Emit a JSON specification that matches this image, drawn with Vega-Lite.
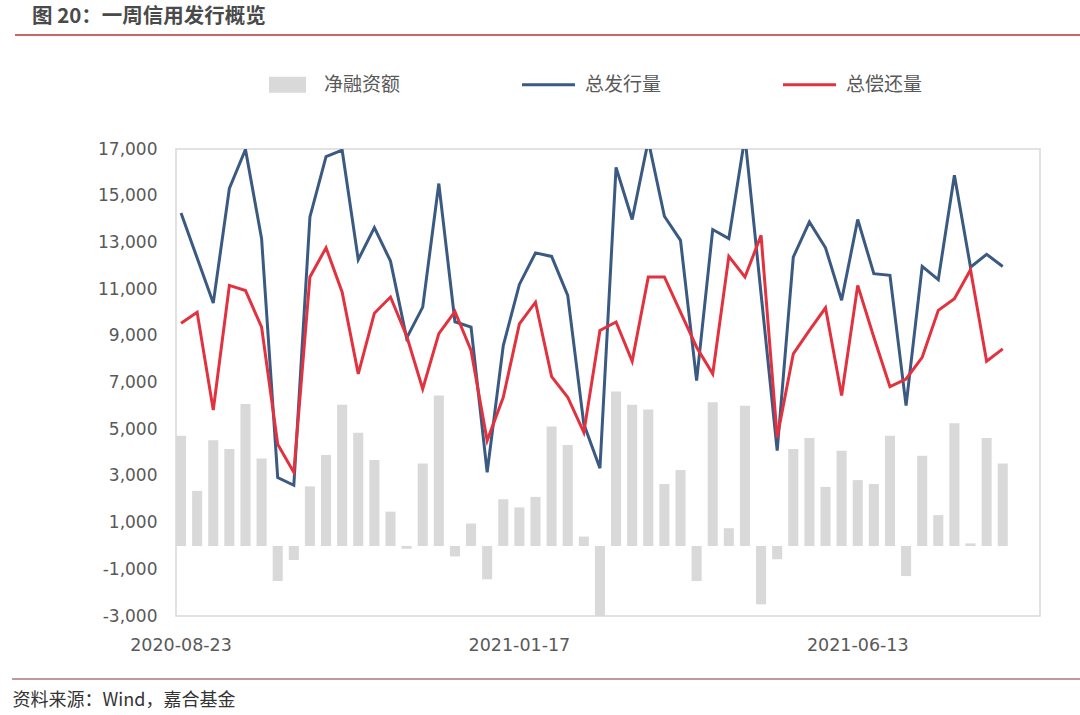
{
  "$schema": "https://vega.github.io/schema/vega-lite/v6.json",
  "width": 864,
  "height": 467,
  "autosize": {"type": "none"},
  "padding": {"left": 176, "top": 149, "right": 40, "bottom": 99},
  "background": "#ffffff",
  "config": {
    "font": "Noto Sans CJK SC",
    "view": {"stroke": "#d9d9d9", "strokeWidth": 1.5}
  },
  "title": {
    "text": "图 20：一周信用发行概览",
    "anchor": "start",
    "frame": "group",
    "dx": -144,
    "offset": 7,
    "fontSize": 20.5,
    "fontWeight": "bold",
    "color": "#4a4a4a"
  },
  "data": {
    "values": [
      {"date": "2020-08-23", "净融资额": 4720, "总发行量": 14260, "总偿还量": 9540},
      {"date": "2020-08-30", "净融资额": 2360, "总发行量": 12330, "总偿还量": 10010},
      {"date": "2020-09-06", "净融资额": 4530, "总发行量": 10400, "总偿还量": 5820},
      {"date": "2020-09-13", "净融资额": 4150, "总发行量": 15310, "总偿还量": 11160},
      {"date": "2020-09-20", "净融资额": 6080, "总发行量": 16980, "总偿还量": 10940},
      {"date": "2020-09-27", "净融资额": 3750, "总发行量": 13160, "总偿还量": 9370},
      {"date": "2020-10-04", "净融资额": -1500, "总发行量": 2930, "总偿还量": 4360},
      {"date": "2020-10-11", "净融资额": -600, "总发行量": 2600, "总偿还量": 3150},
      {"date": "2020-10-18", "净融资额": 2550, "总发行量": 14090, "总偿还量": 11520},
      {"date": "2020-10-25", "净融资额": 3890, "总发行量": 16670, "总偿还量": 12770},
      {"date": "2020-11-01", "净融资额": 6050, "总发行量": 16950, "总偿还量": 10870},
      {"date": "2020-11-08", "净融资额": 4850, "总发行量": 12260, "总偿还量": 7370},
      {"date": "2020-11-15", "净融资额": 3680, "总发行量": 13630, "总偿还量": 9970},
      {"date": "2020-11-22", "净融资额": 1470, "总发行量": 12200, "总偿还量": 10660},
      {"date": "2020-11-29", "净融资额": -120, "总发行量": 8900, "总偿还量": 9000},
      {"date": "2020-12-06", "净融资额": 3530, "总发行量": 10230, "总偿还量": 6720},
      {"date": "2020-12-13", "净融资额": 6440, "总发行量": 15520, "总偿还量": 9090},
      {"date": "2020-12-20", "净融资额": -450, "总发行量": 9600, "总偿还量": 10040},
      {"date": "2020-12-27", "净融资额": 960, "总发行量": 9370, "总偿还量": 8370},
      {"date": "2021-01-03", "净融资额": -1430, "总发行量": 3150, "总偿还量": 4510},
      {"date": "2021-01-10", "净融资额": 2000, "总发行量": 8580, "总偿还量": 6370},
      {"date": "2021-01-17", "净融资额": 1650, "总发行量": 11200, "总偿还量": 9510},
      {"date": "2021-01-24", "净融资额": 2100, "总发行量": 12550, "总偿还量": 10440},
      {"date": "2021-01-31", "净融资额": 5120, "总发行量": 12400, "总偿还量": 7250},
      {"date": "2021-02-07", "净融资额": 4320, "总发行量": 10730, "总偿还量": 6370},
      {"date": "2021-02-14", "净融资额": 400, "总发行量": 5220, "总偿还量": 4860},
      {"date": "2021-02-21", "净融资额": -5900, "总发行量": 3330, "总偿还量": 9230},
      {"date": "2021-02-28", "净融资额": 6610, "总发行量": 16210, "总偿还量": 9590},
      {"date": "2021-03-07", "净融资额": 6050, "总发行量": 13980, "总偿还量": 7910},
      {"date": "2021-03-14", "净融资额": 5840, "总发行量": 17360, "总偿还量": 11520},
      {"date": "2021-03-21", "净融资额": 2650, "总发行量": 14120, "总偿还量": 11520},
      {"date": "2021-03-28", "净融资额": 3250, "总发行量": 13090, "总偿还量": 10010},
      {"date": "2021-04-04", "净融资额": -1500, "总发行量": 7080, "总偿还量": 8510},
      {"date": "2021-04-11", "净融资额": 6150, "总发行量": 13550, "总偿还量": 7370},
      {"date": "2021-04-18", "净融资额": 760, "总发行量": 13160, "总偿还量": 12400},
      {"date": "2021-04-25", "净融资额": 6000, "总发行量": 17520, "总偿还量": 11520},
      {"date": "2021-05-02", "净融资额": -2500, "总发行量": 10800, "总偿还量": 13300},
      {"date": "2021-05-09", "净融资额": -570, "总发行量": 4080, "总偿还量": 4650},
      {"date": "2021-05-16", "净融资额": 4150, "总发行量": 12370, "总偿还量": 8230},
      {"date": "2021-05-23", "净融资额": 4620, "总发行量": 13880, "总偿还量": 9230},
      {"date": "2021-05-30", "净融资额": 2530, "总发行量": 12770, "总偿还量": 10200},
      {"date": "2021-06-06", "净融资额": 4080, "总发行量": 10520, "总偿还量": 6440},
      {"date": "2021-06-13", "净融资额": 2820, "总发行量": 13980, "总偿还量": 11160},
      {"date": "2021-06-20", "净融资额": 2650, "总发行量": 11660, "总偿还量": 8940},
      {"date": "2021-06-27", "净融资额": 4720, "总发行量": 11590, "总偿还量": 6820},
      {"date": "2021-07-04", "净融资额": -1290, "总发行量": 6010, "总偿还量": 7150},
      {"date": "2021-07-11", "净融资额": 3860, "总发行量": 11970, "总偿还量": 8080},
      {"date": "2021-07-18", "净融资额": 1320, "总发行量": 11400, "总偿还量": 10090},
      {"date": "2021-07-25", "净融资额": 5250, "总发行量": 15880, "总偿还量": 10590},
      {"date": "2021-08-01", "净融资额": 110, "总发行量": 11940, "总偿还量": 11830},
      {"date": "2021-08-08", "净融资额": 4620, "总发行量": 12490, "总偿还量": 7910},
      {"date": "2021-08-15", "净融资额": 3530, "总发行量": 11970, "总偿还量": 8440}
    ]
  },
  "encoding": {
    "x": {
      "field": "date",
      "type": "ordinal",
      "sort": null,
      "scale": {
        "domain": ["2020-08-23","2020-08-30","2020-09-06","2020-09-13","2020-09-20","2020-09-27","2020-10-04","2020-10-11","2020-10-18","2020-10-25","2020-11-01","2020-11-08","2020-11-15","2020-11-22","2020-11-29","2020-12-06","2020-12-13","2020-12-20","2020-12-27","2021-01-03","2021-01-10","2021-01-17","2021-01-24","2021-01-31","2021-02-07","2021-02-14","2021-02-21","2021-02-28","2021-03-07","2021-03-14","2021-03-21","2021-03-28","2021-04-04","2021-04-11","2021-04-18","2021-04-25","2021-05-02","2021-05-09","2021-05-16","2021-05-23","2021-05-30","2021-06-06","2021-06-13","2021-06-20","2021-06-27","2021-07-04","2021-07-11","2021-07-18","2021-07-25","2021-08-01","2021-08-08","2021-08-15","2021-08-22","2021-08-29"],
        "paddingInner": 0.375,
        "paddingOuter": 0
      },
      "axis": {
        "labelExpr": "indexof(['2020-08-23', '2021-01-17', '2021-06-13'], datum.value) >= 0 ? datum.value : ''",
        "labelAngle": 0,
        "labelOverlap": false,
        "labelBound": false,
        "labelFlush": false,
        "ticks": false,
        "domain": false,
        "grid": false,
        "labelPadding": 20,
        "labelFont": "DejaVu Sans",
        "labelFontSize": 17.5,
        "labelColor": "#595959",
        "title": "资料来源：Wind，嘉合基金",
        "titleX": -164,
        "titleY": 84,
        "titleAlign": "left",
        "titleBaseline": "middle",
        "titleAnchor": null,
        "titleFontSize": 18,
        "titleFontWeight": "normal",
        "titleColor": "#333333"
      }
    }
  },
  "layer": [
    {
      "mark": {"type": "bar", "clip": true},
      "encoding": {
        "y": {
          "field": "净融资额",
          "type": "quantitative",
          "scale": {"domain": [-3000, 17000], "nice": false, "zero": false},
          "axis": {
            "values": [-3000, -1000, 1000, 3000, 5000, 7000, 9000, 11000, 13000, 15000, 17000],
            "labelExpr": "(datum.value < 0 ? '-' : '') + format(abs(datum.value), ',d')",
            "grid": false,
            "ticks": false,
            "domain": false,
            "labelPadding": 19,
            "labelFont": "DejaVu Sans",
            "labelFontSize": 17,
            "labelColor": "#595959",
            "title": null
          }
        },
        "width": {"band": 0.625},
        "color": {
          "datum": "净融资额",
          "type": "nominal",
          "scale": {
            "domain": ["净融资额", "总发行量", "总偿还量"],
            "range": ["#d9d9d9", "#3b5a82", "#e2323f"]
          },
          "legend": {
            "orient": "none",
            "legendX": 102,
            "legendY": -74,
            "direction": "horizontal",
            "title": null,
            "columnPadding": 115,
            "labelFontSize": 19,
            "labelColor": "#595959",
            "labelOffset": 27,
            "symbolSize": 2809,
            "symbolType": "stroke",
            "symbolStrokeWidth": 3,
            "encode": {
              "symbols": {
                "update": {
                  "shape": {"signal": "datum.value === '净融资额' ? 'M-1,-0.43H1V0.43H-1Z' : 'stroke'"},
                  "size": {"signal": "datum.value === '净融资额' ? 1369 : 2809"},
                  "fill": {"signal": "datum.value === '净融资额' ? '#d9d9d9' : 'transparent'"},
                  "stroke": {"signal": "datum.value === '总发行量' ? '#3b5a82' : (datum.value === '总偿还量' ? '#e2323f' : 'transparent')"},
                  "strokeWidth": {"signal": "datum.value === '净融资额' ? 0 : 3"},
                  "opacity": {"value": 1}
                }
              }
            }
          }
        }
      }
    },
    {
      "transform": [{"fold": ["总发行量", "总偿还量"], "as": ["series", "value"]}],
      "mark": {"type": "line", "strokeWidth": 3, "clip": true},
      "encoding": {
        "y": {"field": "value", "type": "quantitative"},
        "color": {"field": "series", "type": "nominal", "legend": {"title": null}}
      }
    },
    {
      "data": {"values": [{"part": "header"}]},
      "mark": {"type": "rule", "color": "#b8323e", "strokeWidth": 1.5},
      "encoding": {"x": {"value": -161}, "x2": {"value": 904}, "y": {"value": -114}}
    },
    {
      "data": {"values": [{"part": "footer"}]},
      "mark": {"type": "rule", "color": "#a87878", "strokeWidth": 1.5},
      "encoding": {"x": {"value": -164}, "x2": {"value": 904}, "y": {"value": 530}}
    }
  ]
}
